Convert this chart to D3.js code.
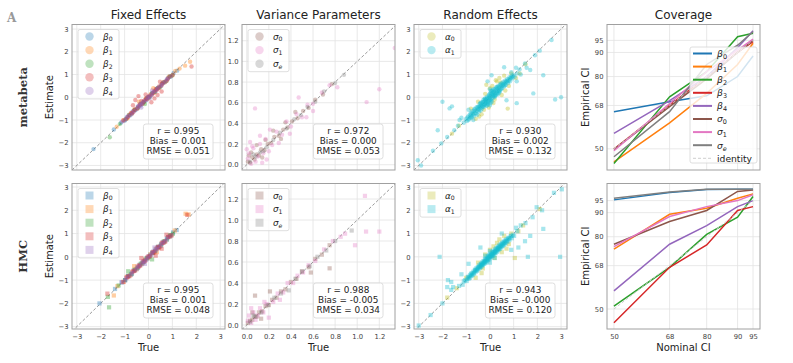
<!DOCTYPE html>
<html><head><meta charset="utf-8">
<script src="https://cdn.jsdelivr.net/npm/d3@7"></script>
<style>body{margin:0;background:#fff}svg{display:block}</style>
</head><body><svg id="c" width="793" height="363"></svg>
<script>
// ---------------- DATA ----------------
const fixedLabels = ["β0","β1","β2","β3","β4"];
const varLabels = ["σ0","σ1","σe"];
const randLabels = ["α0","α1"];
const covLabels = ["β0","β1","β2","β3","β4","σ0","σ1","σe"];
const rowLabels = ["metabeta","HMC"];
const panelTitles = ["Fixed Effects","Variance Parameters","Random Effects","Coverage"];
const effTicks = [-3,-2,-1,0,1,2,3];
const varTicks = [0,0.2,0.4,0.6,0.8,1.0,1.2];
const covNominal = [50,68,80,90,95];
const covTicks = [50,68,80,90,95];

const statsMeta = [["r = 0.995","Bias = 0.001","RMSE = 0.051"],["r = 0.972","Bias = 0.000","RMSE = 0.053"],["r = 0.930","Bias = 0.002","RMSE = 0.132"]];
const statsHMC = [["r = 0.995","Bias = 0.001","RMSE = 0.048"],["r = 0.988","Bias = -0.005","RMSE = 0.034"],["r = 0.943","Bias = -0.000","RMSE = 0.120"]];

// metabeta fixed effects [true, estimate]
const fe_m_b0 = [[-1.45,-1.42],[-1.15,-1.12],[-1.0,-1.03],[-0.9,-0.88],[-0.78,-0.8],[-0.66,-0.63],[-0.55,-0.57],[-0.44,-0.41],[-0.33,-0.36],[-0.22,-0.2],[-0.12,-0.15],[-0.03,0.0],[0.06,0.04],[0.15,0.18],[0.26,0.23],[0.35,0.38],[0.46,0.43],[0.57,0.6],[0.68,0.66],[0.8,0.83],[0.92,0.9],[1.05,1.07],[1.2,1.17],[-2.3,-2.28]];
const fe_m_b1 = [[-1.33,-1.3],[-1.05,-1.0],[-0.88,-0.92],[-0.72,-0.7],[-0.6,-0.55],[-0.48,-0.5],[-0.35,-0.3],[-0.24,-0.27],[-0.1,-0.06],[0.0,-0.04],[0.1,0.14],[0.22,0.18],[0.33,0.37],[0.45,0.41],[0.56,0.6],[0.7,0.66],[0.83,0.87],[0.97,0.94],[1.12,1.16],[1.3,1.26],[1.53,1.39],[1.74,1.56],[0.2,0.4],[-0.4,-0.2]];
const fe_m_b2 = [[-1.62,-1.76],[-1.2,-1.18],[-0.95,-0.97],[-0.82,-0.78],[-0.7,-0.72],[-0.58,-0.55],[-0.45,-0.48],[-0.32,-0.29],[-0.2,-0.23],[-0.08,-0.05],[0.03,0.0],[0.14,0.17],[0.27,0.24],[0.38,0.41],[0.5,0.47],[0.62,0.65],[0.75,0.72],[0.88,0.91],[1.0,0.97],[-0.15,-0.3]];
const fe_m_b3 = [[-1.05,-1.02],[-0.92,-0.95],[-0.8,-0.77],[-0.68,-0.71],[-0.57,-0.54],[-0.46,-0.49],[-0.36,-0.33],[-0.26,-0.29],[-0.16,-0.13],[-0.06,-0.09],[0.04,0.07],[0.14,0.11],[0.24,0.27],[0.34,0.31],[0.44,0.47],[0.54,0.51],[0.64,0.67],[0.76,0.73],[0.88,0.91],[1.02,0.99],[-0.55,-0.12],[-0.42,0.05],[-0.3,-0.16],[0.25,-0.05],[0.38,0.1],[0.12,-0.22],[-0.12,0.12],[0.55,0.25],[1.8,1.35],[0.48,0.68],[-0.65,-0.35],[-0.85,-0.86],[-0.62,-0.63],[-0.41,-0.4],[-0.2,-0.21],[0.0,0.01],[0.19,0.2],[0.39,0.38],[0.59,0.6],[0.8,0.79],[-0.72,-0.68],[0.3,0.35],[-0.1,-0.04]];
const fe_m_b4 = [[-1.1,-1.07],[-0.98,-1.0],[-0.86,-0.83],[-0.74,-0.77],[-0.62,-0.6],[-0.5,-0.53],[-0.4,-0.37],[-0.3,-0.32],[-0.2,-0.18],[-0.1,-0.12],[0.0,0.02],[0.1,0.08],[0.2,0.22],[0.3,0.27],[0.4,0.42],[0.5,0.48],[0.6,0.62],[0.7,0.68],[0.82,0.84],[0.95,0.93],[-0.3,-0.45],[0.15,0.3],[-0.92,-0.9],[-0.68,-0.7],[-0.45,-0.44],[-0.25,-0.26],[-0.05,-0.03],[0.15,0.14],[0.35,0.36],[0.55,0.54],[0.76,0.78],[0.05,-0.05],[-0.35,-0.28]];
// HMC fixed effects
const fe_h_b0 = [[-1.4,-1.38],[-1.12,-1.1],[-0.98,-1.0],[-0.85,-0.83],[-0.72,-0.75],[-0.6,-0.58],[-0.48,-0.5],[-0.36,-0.34],[-0.25,-0.27],[-0.14,-0.12],[-0.04,-0.06],[0.07,0.09],[0.18,0.16],[0.3,0.32],[0.41,0.39],[0.53,0.55],[0.65,0.63],[0.78,0.8],[0.9,0.88],[1.03,1.05],[1.18,1.15],[-2.05,-2.0]];
const fe_h_b1 = [[-1.45,-1.66],[-1.3,-1.26],[-1.05,-1.08],[-0.9,-0.86],[-0.76,-0.79],[-0.63,-0.6],[-0.5,-0.53],[-0.38,-0.35],[-0.27,-0.3],[-0.15,-0.12],[-0.03,-0.06],[0.08,0.11],[0.2,0.17],[0.31,0.34],[0.43,0.4],[0.55,0.58],[0.68,0.65],[0.82,0.85],[0.96,0.93],[1.1,1.13],[1.55,1.85],[1.68,1.82],[0.35,0.2],[-0.6,-0.4]];
const fe_h_b2 = [[-1.65,-2.17],[-1.7,-1.72],[-1.25,-1.23],[-0.98,-1.0],[-0.84,-0.81],[-0.7,-0.73],[-0.57,-0.55],[-0.44,-0.47],[-0.32,-0.29],[-0.2,-0.22],[-0.08,-0.06],[0.04,0.01],[0.15,-0.11],[0.16,0.18],[0.28,0.25],[0.4,0.43],[0.52,0.49],[0.64,0.67],[0.77,0.74],[0.9,0.93],[1.02,0.99],[-0.85,-0.62]];
const fe_h_b3 = [[-1.72,-1.58],[-1.05,-1.08],[-0.92,-0.89],[-0.8,-0.83],[-0.68,-0.65],[-0.56,-0.59],[-0.45,-0.42],[-0.35,-0.38],[-0.24,-0.21],[-0.14,-0.17],[-0.04,-0.01],[0.06,0.03],[0.16,0.19],[0.26,0.23],[0.36,0.39],[0.47,0.44],[0.58,0.61],[0.7,0.67],[0.82,0.85],[0.95,0.92],[1.62,1.8],[0.3,0.05],[-0.3,-0.05],[0.55,0.35],[0.75,0.95],[-0.86,-0.85],[-0.62,-0.61],[-0.4,-0.41],[-0.19,-0.2],[0.01,0.02],[0.21,0.2],[0.41,0.42],[0.62,0.6],[0.88,0.87]];
const fe_h_b4 = [[-1.12,-1.09],[-0.98,-1.01],[-0.86,-0.83],[-0.74,-0.77],[-0.62,-0.6],[-0.5,-0.53],[-0.4,-0.37],[-0.3,-0.33],[-0.2,-0.18],[-0.1,-0.13],[0.0,0.02],[0.1,0.07],[0.2,0.23],[0.3,0.27],[0.4,0.43],[0.5,0.47],[0.6,0.63],[0.7,0.67],[0.82,0.85],[0.96,0.93],[0.25,0.4],[-0.15,-0.3],[-0.93,-0.92],[-0.69,-0.7],[-0.46,-0.45],[-0.25,-0.24],[-0.05,-0.06],[0.15,0.16],[0.35,0.34],[0.55,0.56],[0.76,0.75]];

// variance parameters
const var_m_s0 = [[0.01,0.03],[0.03,0.02],[0.05,0.07],[0.07,0.05],[0.09,0.1],[0.11,0.09],[0.13,0.15],[0.16,0.14],[0.19,0.2],[0.22,0.21],[0.25,0.27],[0.29,0.28],[0.33,0.34],[0.37,0.36],[0.41,0.42],[0.46,0.45],[0.51,0.52],[0.56,0.55],[0.62,0.63],[0.69,0.68],[0.77,0.78],[0.04,0.12],[0.09,0.19],[0.14,0.07],[0.31,0.25],[0.44,0.51],[0.24,0.33],[0.02,0.09],[0.17,0.24],[0.35,0.41]];
const var_m_s1 = [[0.01,0.06],[0.02,0.11],[0.04,0.01],[0.06,0.16],[0.08,0.03],[0.1,0.08],[0.12,0.2],[0.15,0.11],[0.17,0.25],[0.2,0.13],[0.23,0.19],[0.27,0.32],[0.32,0.29],[0.36,0.42],[0.4,0.37],[0.45,0.49],[0.5,0.46],[0.55,0.58],[0.6,0.59],[0.68,0.7],[0.75,0.77],[0.82,0.75],[0.075,0.545],[0.47,0.65],[1.085,0.606],[1.2,0.73],[1.34,1.13],[0.39,0.3],[0.21,0.34],[0.03,0.22],[0.05,0.18],[0.14,0.02],[0.29,0.21],[0.54,0.46],[0.12,0.28],[0.18,0.05],[0.0,0.15],[0.6,0.52]];
const var_m_se = [[0.03,0.03],[0.08,0.08],[0.12,0.12],[0.18,0.17],[0.24,0.24],[0.3,0.31],[0.36,0.35],[0.43,0.44],[0.49,0.48],[0.55,0.56],[0.62,0.61],[0.7,0.71],[0.8,0.79],[0.88,0.87],[0.06,0.1],[0.15,0.13]];
const var_h_s0 = [[0.01,0.02],[0.03,0.04],[0.05,0.05],[0.07,0.08],[0.09,0.08],[0.11,0.12],[0.14,0.13],[0.17,0.18],[0.2,0.19],[0.23,0.24],[0.27,0.26],[0.31,0.32],[0.35,0.34],[0.4,0.41],[0.45,0.44],[0.5,0.51],[0.56,0.55],[0.62,0.63],[0.68,0.67],[0.75,0.76],[0.075,0.28],[0.21,0.32],[0.75,0.54],[0.58,0.5],[0.05,0.12],[0.13,0.06]];
const var_h_s1 = [[0.01,0.04],[0.02,0.09],[0.04,0.02],[0.06,0.12],[0.08,0.05],[0.1,0.09],[0.12,0.16],[0.15,0.12],[0.18,0.2],[0.2,0.07],[0.24,0.22],[0.28,0.3],[0.33,0.31],[0.37,0.4],[0.42,0.4],[0.46,0.47],[0.51,0.5],[0.56,0.57],[0.62,0.61],[0.7,0.72],[0.78,0.8],[0.85,0.84],[0.89,0.87],[0.98,0.76],[1.07,1.23],[1.08,0.89],[1.2,0.89],[0.04,0.16],[0.3,0.24],[0.16,0.22]];
const var_h_se = [[0.03,0.03],[0.08,0.08],[0.13,0.12],[0.19,0.19],[0.25,0.26],[0.31,0.3],[0.38,0.33],[0.44,0.44],[0.5,0.51],[0.57,0.56],[0.64,0.65],[0.72,0.71],[0.8,0.8],[0.95,0.9],[0.06,0.09]];

// random effects
const rand_m_a0 = [[0.4,0.85],[0.6,0.95],[-0.35,-0.75],[-0.6,-0.95],[0.8,0.5],[1.1,0.85],[0.2,-0.1],[-0.2,0.15],[0.75,-0.5],[1.5,1.45],[-1.3,-1.25],[0.9,1.05],[0.3,0.7],[-0.5,-0.2],[0.0,0.4],[0.5,0.1],[-0.15,0.55],[0.25,0.75],[0.1,0.5],[-0.8,-0.5],[-0.45,-0.85],[0.65,0.3],[-0.25,-0.55],[0.15,-0.25],[-1.6,-1.6],[1.25,1.05],[-0.05,-0.45],[0.45,0.65]];
const rand_m_a1 = [[-1.02,-0.96],[-0.97,-1.05],[-0.92,-0.84],[-0.88,-0.95],[-0.85,-0.76],[-0.81,-0.8],[-0.78,-0.9],[-0.76,-0.62],[-0.72,-0.71],[-0.69,-0.6],[-0.67,-0.82],[-0.64,-0.5],[-0.61,-0.61],[-0.58,-0.72],[-0.56,-0.44],[-0.53,-0.77],[-0.5,-0.52],[-0.48,-0.4],[-0.46,-0.63],[-0.43,-0.3],[-0.41,-0.48],[-0.39,-0.58],[-0.36,-0.36],[-0.34,-0.22],[-0.32,-0.5],[-0.3,-0.29],[-0.28,-0.12],[-0.26,-0.42],[-0.24,-0.2],[-0.22,-0.33],[-0.2,-0.05],[-0.18,-0.25],[-0.16,-0.38],[-0.14,-0.1],[-0.12,0.02],[-0.1,-0.18],[-0.08,-0.3],[-0.06,-0.04],[-0.04,0.1],[-0.02,-0.14],[0.0,0.0],[0.02,-0.26],[0.03,0.2],[0.05,0.06],[0.07,-0.08],[0.09,0.28],[0.11,0.12],[0.13,-0.02],[0.15,0.22],[0.17,0.36],[0.19,0.06],[0.21,0.18],[0.23,0.3],[0.25,0.1],[0.27,0.44],[0.29,0.26],[0.31,0.16],[0.33,0.38],[0.35,0.5],[0.37,0.28],[0.39,0.2],[0.41,0.42],[0.43,0.55],[0.46,0.35],[0.48,0.48],[0.5,0.62],[0.52,0.4],[0.55,0.54],[0.57,0.68],[0.6,0.48],[0.62,0.6],[0.65,0.74],[0.67,0.55],[0.7,0.68],[0.73,0.8],[0.76,0.62],[0.79,0.76],[0.82,0.88],[0.85,0.7],[0.88,0.84],[0.92,0.95],[0.95,0.82],[1.0,0.98],[1.05,0.9],[-0.05,0.05],[0.05,-0.15],[0.1,0.2],[-0.1,-0.25],[0.2,0.0],[-0.2,-0.12],[0.3,0.45],[-0.3,-0.4],[0.15,0.1],[-0.15,-0.2],[0.0,-0.35],[0.0,0.35],[0.4,0.3],[-0.4,-0.25],
  [-0.95,-0.9],[-0.9,-1.0],[-0.83,-0.88],[-0.8,-0.7],[-0.75,-0.85],[-0.7,-0.75],[-0.65,-0.55],[-0.62,-0.7],[-0.55,-0.6],[-0.52,-0.45],[-0.47,-0.55],[-0.44,-0.42],[-0.4,-0.4],[-0.37,-0.27],[-0.33,-0.42],[-0.29,-0.21],[-0.25,-0.33],[-0.23,-0.08],[-0.19,-0.3],[-0.17,-0.15],[-0.13,-0.05],[-0.11,-0.35],[-0.07,-0.2],[-0.03,-0.05],[-0.01,0.15],[0.01,-0.1],[0.04,0.28],[0.06,0.12],[0.08,-0.2],[0.12,0.32],[0.14,0.05],[0.18,0.25],[0.22,0.08],[0.24,0.38],[0.28,0.2],[0.32,0.3],[0.34,0.12],[0.38,0.45],[0.42,0.25],[0.45,0.58],[0.49,0.38],[0.53,0.52],[0.58,0.6],[0.63,0.52],[0.66,0.65],[0.72,0.72],[0.78,0.7],[0.84,0.82],[0.9,0.88],[0.97,0.92],
  [-2.0,-0.2],[-1.7,-0.49],[-1.6,-0.4],[-2.2,-1.45],[2.75,-0.1],[3.0,0.0],[1.83,0.17],[2.25,0.97],[2.6,2.52],[1.48,1.49],[1.7,1.2],[1.1,1.3],[1.3,1.0],[0.7,-0.13],[1.13,-0.26],[0.07,0.97],[-0.1,0.7],[0.6,1.32],[1.13,0.7],[-1.28,-1.0],[-1.2,-0.9],[-2.05,-2.03],[-3.04,-2.77],[-2.9,-3.0],[-1.5,-1.45],[-1.8,-1.75],[-1.35,-1.25],[1.25,1.22],[1.9,1.85],[2.1,2.05],[1.55,1.3],[-0.7,-1.0],[-0.9,-0.55],[0.9,1.1],[-2.4,-2.35],[-1.1,-1.12],[1.15,1.05]];
const rand_h_a0 = [[0.4,0.75],[0.6,0.9],[-0.35,-0.7],[-0.6,-0.9],[0.8,0.55],[1.05,-0.05],[0.2,-0.05],[-0.2,0.1],[1.4,1.35],[-1.4,-1.35],[0.9,1.0],[0.3,0.6],[-0.5,-0.25],[0.0,0.3],[0.5,0.2],[-1.8,-1.75],[2.1,2.05],[0.7,0.35],[-0.3,-0.5],[0.15,0.45],[1.2,1.1],[-1.0,-0.9]];
const rand_h_a1 = [[-1.05,-1.0],[-0.98,-1.04],[-0.93,-0.87],[-0.88,-0.93],[-0.84,-0.78],[-0.8,-0.83],[-0.77,-0.7],[-0.73,-0.77],[-0.7,-0.64],[-0.66,-0.72],[-0.63,-0.55],[-0.6,-0.64],[-0.57,-0.49],[-0.54,-0.6],[-0.51,-0.44],[-0.48,-0.53],[-0.45,-0.36],[-0.42,-0.47],[-0.39,-0.3],[-0.36,-0.42],[-0.33,-0.24],[-0.3,-0.36],[-0.27,-0.18],[-0.24,-0.3],[-0.21,-0.1],[-0.18,-0.26],[-0.15,-0.04],[-0.12,-0.2],[-0.09,0.03],[-0.06,-0.14],[-0.03,0.08],[0.0,-0.08],[0.03,0.14],[0.06,-0.02],[0.09,0.2],[0.12,0.04],[0.15,0.26],[0.18,0.1],[0.21,0.32],[0.24,0.16],[0.27,0.38],[0.3,0.22],[0.33,0.43],[0.36,0.28],[0.39,0.49],[0.42,0.34],[0.45,0.55],[0.48,0.4],[0.51,0.6],[0.54,0.46],[0.57,0.65],[0.6,0.52],[0.63,0.7],[0.66,0.58],[0.7,0.76],[0.74,0.64],[0.78,0.82],[0.82,0.72],[0.87,0.88],[0.92,0.8],[0.97,0.95],[1.02,0.9],[-0.02,0.0],[0.05,0.05],[-0.1,-0.1],[0.1,0.1],[0.2,0.2],[-0.2,-0.2],[0.35,0.35],[-0.35,-0.35],[-0.2,0.05],[0.2,-0.05],[0.0,0.25],[0.0,-0.25],
  [-0.95,-0.95],[-0.9,-0.85],[-0.85,-0.9],[-0.79,-0.74],[-0.75,-0.8],[-0.68,-0.7],[-0.64,-0.6],[-0.6,-0.57],[-0.55,-0.55],[-0.5,-0.5],[-0.47,-0.44],[-0.43,-0.4],[-0.4,-0.43],[-0.37,-0.32],[-0.34,-0.36],[-0.31,-0.27],[-0.28,-0.3],[-0.25,-0.21],[-0.22,-0.24],[-0.19,-0.14],[-0.16,-0.18],[-0.13,-0.08],[-0.1,-0.12],[-0.07,-0.02],[-0.04,-0.06],[-0.01,0.04],[0.02,0.0],[0.04,0.1],[0.08,0.06],[0.11,0.15],[0.14,0.12],[0.17,0.21],[0.2,0.18],[0.23,0.27],[0.26,0.24],[0.29,0.33],[0.32,0.3],[0.35,0.39],[0.38,0.36],[0.41,0.45],[0.44,0.42],[0.47,0.5],[0.5,0.47],[0.53,0.56],[0.56,0.53],[0.6,0.62],[0.64,0.6],[0.68,0.7],[0.72,0.68],[0.77,0.78],[0.83,0.8],[0.9,0.9],
  [-2.12,0.0],[-1.77,-1.0],[-1.63,-1.08],[-1.63,-1.42],[-1.55,-1.3],[2.96,0.0],[2.25,1.2],[1.48,0.67],[1.7,0.9],[1.6,0.0],[3.03,2.9],[-3.0,-2.95],[1.97,2.13],[2.2,2.0],[1.3,1.35],[1.5,1.45],[-1.3,-1.25],[-1.1,-1.05],[-2.0,-2.0],[-2.5,-2.5],[-1.8,-1.3],[1.1,1.25],[0.9,0.3],[1.2,0.4],[-0.9,-0.3],[-1.2,-0.75],[2.7,2.75],[1.8,1.7],[0.5,1.0],[-0.4,0.4],[1.15,1.1],[-1.15,-1.2]];

// coverage (empirical CI per nominal CI)
const cov_m_b0 = [65.4,69.5,72,80,88.5];
const cov_m_b1 = [44.6,60.8,73,85,93.8];
const cov_m_b2 = [43.9,71.6,82,96.5,98];
const cov_m_b3 = [49.9,68,80,90,94.5];
const cov_m_b4 = [56.4,70,80,92,99];
const cov_m_s0 = [49.8,67.5,79,90,95];
const cov_m_s1 = [49.2,68.8,82,91,95.5];
const cov_m_se = [46.7,65.4,85,93,98.6];
const cov_h_b0 = [95.3,98.4,99.6,99.7,99.7];
const cov_h_b1 = [74.9,89.3,91.8,96,97.8];
const cov_h_b2 = [51.2,67.3,81,88.1,96.7];
const cov_h_b3 = [44.3,67.3,76.6,90.9,92.5];
const cov_h_b4 = [57.5,76.9,84.6,92.5,95];
const cov_h_s0 = [76.9,86.3,90.9,98.8,99.4];
const cov_h_s1 = [75.9,88.4,92.5,95,97.4];
const cov_h_se = [96.0,98.6,99.7,99.7,99.7];

// ---------------- DRAW ----------------
const fixedColors = ["#1f77b4","#ff7f0e","#2ca02c","#d62728","#9467bd"];
const varColors = ["#8c564b","#e377c2","#7f7f7f"];
const randColors = ["#bcbd22","#17becf"];
const covColors = fixedColors.concat(varColors);
const FONT = "DejaVu Sans, sans-serif";
const PX = [72,242,414,607], PW = 153, RY = [24.5,183.5], PH = 145.5;
const svg = d3.select("#c").style("font-family", FONT);
let clipN = 0;

function greek(sel, lab){
  sel.append("tspan").attr("font-style","italic").text(lab[0]);
  sel.append("tspan").attr("font-size","0.7em").attr("dy","0.32em")
     .attr("font-style", lab[1]==="e" ? "italic" : "normal").text(lab.slice(1));
}
function frame(g){
  g.append("rect").attr("width",PW).attr("height",PH).attr("fill","none").attr("stroke","#a0a0a0").attr("stroke-width",1);
}
function grid(g,x,y,xt,yt){
  g.append("g").selectAll("line").data(xt).join("line")
    .attr("x1",d=>x(d)).attr("x2",d=>x(d)).attr("y1",0).attr("y2",PH).attr("stroke","#e3e3e3").attr("stroke-width",0.8);
  g.append("g").selectAll("line").data(yt).join("line")
    .attr("y1",d=>y(d)).attr("y2",d=>y(d)).attr("x1",0).attr("x2",PW).attr("stroke","#e3e3e3").attr("stroke-width",0.8);
}
function axes(g,x,y,xt,yt,fmt,showX){
  const ya = g.append("g").call(d3.axisLeft(y).tickValues(yt).tickSize(0).tickPadding(3.5).tickFormat(fmt));
  ya.select(".domain").remove();
  ya.selectAll("text").attr("font-size",6.8).attr("fill","#444").attr("font-family",FONT);
  if(showX){
    const xa = g.append("g").attr("transform",`translate(0,${PH})`)
      .call(d3.axisBottom(x).tickValues(xt).tickSize(0).tickPadding(5).tickFormat(fmt));
    xa.select(".domain").remove();
    xa.selectAll("text").attr("font-size",6.8).attr("fill","#444").attr("font-family",FONT);
  }
}
const fmtEff = d => (d<0 ? "\u2212"+Math.abs(d) : String(d));
const fmtVar = d => d.toFixed(1);
const fmtCov = d => String(d);

function scatterPanel(col,row,xd,yd,ticks,fmt,series,labels,colors,stats,alpha){
  const g = svg.append("g").attr("transform",`translate(${PX[col]},${RY[row]})`);
  const x = d3.scaleLinear().domain(xd).range([0,PW]);
  const y = d3.scaleLinear().domain(yd).range([PH,0]);
  grid(g,x,y,ticks,ticks);
  const id = "clip"+(clipN++);
  g.append("clipPath").attr("id",id).append("rect").attr("width",PW).attr("height",PH);
  const inner = g.append("g").attr("clip-path",`url(#${id})`);
  const lo = Math.min(xd[0],yd[0]), hi = Math.max(xd[1],yd[1]);
  inner.append("line").attr("x1",x(lo)).attr("y1",y(lo)).attr("x2",x(hi)).attr("y2",y(hi))
    .attr("stroke","#808080").attr("stroke-width",0.8).attr("stroke-dasharray","3,2");
  series.forEach((s,i)=>{
    const sg = inner.append("g").attr("fill",colors[i]).attr("fill-opacity",alpha);
    if(row===0){
      sg.selectAll("circle").data(s).join("circle").attr("cx",d=>x(d[0])).attr("cy",d=>y(d[1])).attr("r",2.2);
    } else {
      sg.selectAll("rect").data(s).join("rect").attr("x",d=>x(d[0])-2.1).attr("y",d=>y(d[1])-2.1).attr("width",4.2).attr("height",4.2);
    }
  });
  frame(g);
  axes(g,x,y,ticks,ticks,fmt,row===1);
  // legend
  const sp = 13.6, top = 5;
  const lg = g.append("g").attr("transform","translate(6,"+top+")");
  lg.append("rect").attr("width",41).attr("height",7+ (labels.length-1)*sp + 7.5 + 0.5)
    .attr("rx",2).attr("fill","#fff").attr("fill-opacity",0.8).attr("stroke","#d6d6d6").attr("stroke-width",0.8);
  labels.forEach((lab,i)=>{
    const cy = 7 + i*sp;
    if(row===0) lg.append("circle").attr("cx",11.5).attr("cy",cy).attr("r",4.2).attr("fill",colors[i]).attr("fill-opacity",0.3);
    else lg.append("rect").attr("x",7.5).attr("y",cy-4).attr("width",8).attr("height",8).attr("fill",colors[i]).attr("fill-opacity",0.3);
    const t = lg.append("text").attr("x",25).attr("y",cy+3).attr("font-size",8.8).attr("fill","#222");
    greek(t,lab);
  });
  // stats box
  const sb = g.append("g");
  const texts = stats.map((s,i)=> sb.append("text").attr("text-anchor","middle").attr("font-size",8.9).attr("fill","#222").text(s));
  const w = d3.max(texts, t=>t.node().getComputedTextLength()) + 6;
  const h = 35, bx = PW - 12 - w, by = PH - 11 - h;
  sb.insert("rect","text").attr("x",bx).attr("y",by).attr("width",w).attr("height",h).attr("rx",2.5)
    .attr("fill","#fff").attr("fill-opacity",0.85).attr("stroke","#d6d6d6").attr("stroke-width",0.8);
  texts.forEach((t,i)=> t.attr("x",bx+w/2).attr("y",by+10.3+i*9.6));
}

function coveragePanel(row,yd,series,showLegend){
  const g = svg.append("g").attr("transform",`translate(${PX[3]},${RY[row]})`);
  const x = d3.scaleLinear().domain([47.75,97.25]).range([0,PW]);
  const y = d3.scaleLinear().domain(yd).range([PH,0]);
  grid(g,x,y,covTicks,covTicks);
  const id = "clip"+(clipN++);
  g.append("clipPath").attr("id",id).append("rect").attr("width",PW).attr("height",PH);
  const inner = g.append("g").attr("clip-path",`url(#${id})`);
  const line = d3.line().x((d,i)=>x(covNominal[i])).y(d=>y(d));
  series.forEach((s,i)=>{
    inner.append("path").attr("d",line(s)).attr("fill","none").attr("stroke",covColors[i]).attr("stroke-width",1.5);
  });
  inner.append("path").attr("d",line(covNominal)).attr("fill","none").attr("stroke","#c8c8c8")
    .attr("stroke-width",0.9).attr("stroke-dasharray","3,2");
  frame(g);
  axes(g,x,y,covTicks,covTicks,fmtCov,row===1);
  if(showLegend){
    const lw = 67, lh = 116;
    const lg = g.append("g").attr("transform",`translate(${PW-3-lw},${PH-7-lh})`);
    lg.append("rect").attr("width",lw).attr("height",lh).attr("rx",2).attr("fill","#fff").attr("fill-opacity",0.8)
      .attr("stroke","#d6d6d6").attr("stroke-width",0.8);
    const items = covLabels.concat(["identity"]);
    items.forEach((lab,i)=>{
      const cy = 6.5 + i*13.1;
      const isId = lab==="identity";
      lg.append("line").attr("x1",3).attr("x2",22).attr("y1",cy).attr("y2",cy)
        .attr("stroke", isId ? "#c8c8c8" : covColors[i]).attr("stroke-width", isId?0.9:2)
        .attr("stroke-dasharray", isId ? "3,2" : null);
      const t = lg.append("text").attr("x",27).attr("y",cy+3.3).attr("font-size",9.2).attr("fill","#222");
      if(isId) t.text(lab); else greek(t,lab);
    });
  }
}

// Row 0: metabeta
scatterPanel(0,0,[-3.2,3.2],[-3.2,3.2],effTicks,fmtEff,[fe_m_b0,fe_m_b1,fe_m_b2,fe_m_b3,fe_m_b4],fixedLabels,fixedColors,statsMeta[0],0.38);
scatterPanel(1,0,[-0.043,1.342],[-0.051,1.357],varTicks,fmtVar,[var_m_s0,var_m_s1,var_m_se],varLabels,varColors,statsMeta[1],0.35);
scatterPanel(2,0,[-3.2,3.25],[-3.2,3.2],effTicks,fmtEff,[rand_m_a0,rand_m_a1],randLabels,randColors,statsMeta[2],0.38);
coveragePanel(0,[41.2,101.6],[cov_m_b0,cov_m_b1,cov_m_b2,cov_m_b3,cov_m_b4,cov_m_s0,cov_m_s1,cov_m_se],true);
// Row 1: HMC
scatterPanel(0,1,[-3.2,3.2],[-3.1,3.15],effTicks,fmtEff,[fe_h_b0,fe_h_b1,fe_h_b2,fe_h_b3,fe_h_b4],fixedLabels,fixedColors,statsHMC[0],0.38);
scatterPanel(1,1,[-0.043,1.342],[-0.038,1.348],varTicks,fmtVar,[var_h_s0,var_h_s1,var_h_se],varLabels,varColors,statsHMC[1],0.35);
scatterPanel(2,1,[-3.2,3.25],[-3.1,3.15],effTicks,fmtEff,[rand_h_a0,rand_h_a1],randLabels,randColors,statsHMC[2],0.38);
coveragePanel(1,[41.7,102.1],[cov_h_b0,cov_h_b1,cov_h_b2,cov_h_b3,cov_h_b4,cov_h_s0,cov_h_s1,cov_h_se],false);

// titles
panelTitles.forEach((t,i)=>{
  svg.append("text").attr("x",PX[i]+PW/2).attr("y",19).attr("text-anchor","middle").attr("font-size",12).attr("fill","#222").text(t);
});
// axis labels
[0,1].forEach(r=>{
  const cy = RY[r]+PH/2;
  svg.append("text").attr("transform",`translate(53,${cy}) rotate(-90)`).attr("text-anchor","middle").attr("font-size",10).attr("fill","#222").text("Estimate");
  svg.append("text").attr("transform",`translate(589,${cy}) rotate(-90)`).attr("text-anchor","middle").attr("font-size",10).attr("fill","#222").text("Empirical CI");
  svg.append("text").attr("transform",`translate(27,${cy}) rotate(-90)`).attr("text-anchor","middle")
    .attr("font-size",11.5).attr("font-weight","bold").attr("font-family","DejaVu Serif, serif").attr("fill","#333").text(rowLabels[r]);
});
[0,1,2].forEach(i=>{
  svg.append("text").attr("x",PX[i]+PW/2).attr("y",351).attr("text-anchor","middle").attr("font-size",10).attr("fill","#222").text("True");
});
svg.append("text").attr("x",PX[3]+PW/2).attr("y",351).attr("text-anchor","middle").attr("font-size",10).attr("fill","#222").text("Nominal CI");
svg.append("text").attr("x",7).attr("y",21.5).attr("font-size",12).attr("font-weight","bold").attr("font-family","DejaVu Serif, serif").attr("fill","#999").text("A");
</script></body></html>
